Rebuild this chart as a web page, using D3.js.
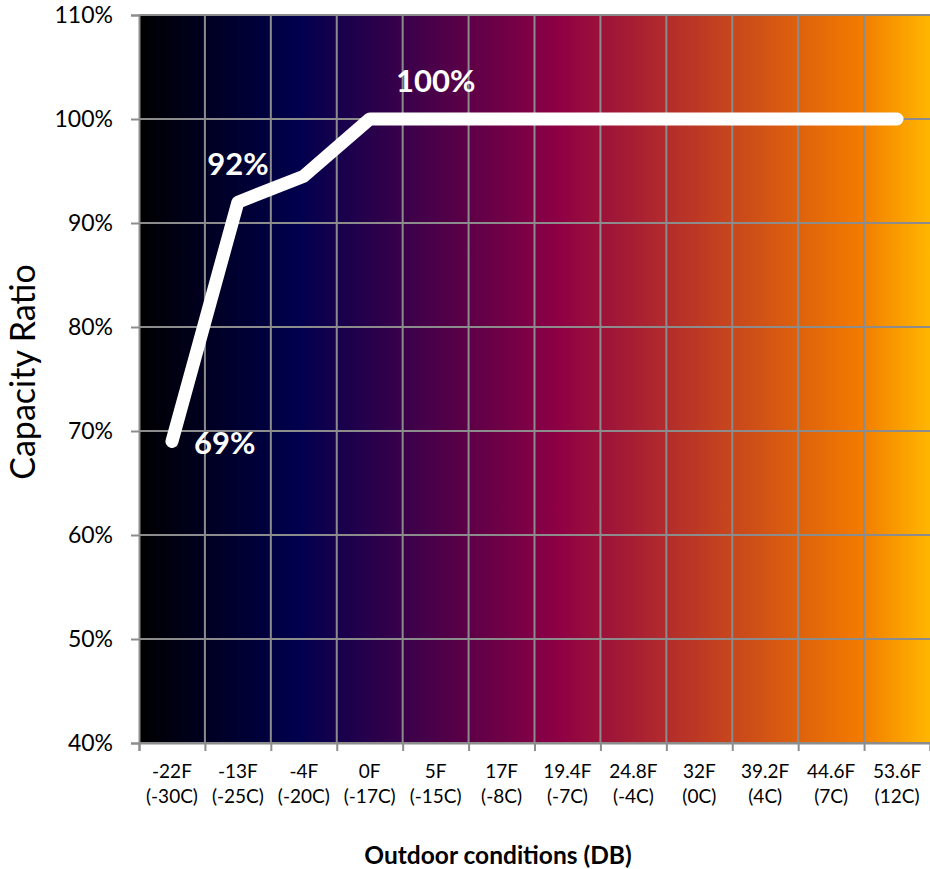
<!DOCTYPE html>
<html>
<head>
<meta charset="utf-8">
<script src="https://cdn.jsdelivr.net/npm/d3@7"></script>
<style>
  html, body { margin: 0; padding: 0; background: #ffffff; }
  svg { display: block; font-family: Lato, "Open Sans", sans-serif; }
</style>
</head>
<body>
<svg id="chart" width="930" height="869"></svg>
<script>
// Outdoor temperature categories (first line °F, second line °C)
const tempF = ["-22F", "-13F", "-4F", "0F", "5F", "17F", "19.4F", "24.8F", "32F", "39.2F", "44.6F", "53.6F"];
const tempC = ["(-30C)", "(-25C)", "(-20C)", "(-17C)", "(-15C)", "(-8C)", "(-7C)", "(-4C)", "(0C)", "(4C)", "(7C)", "(12C)"];
// Capacity ratio at each outdoor condition
const capacity = [0.69, 0.92, 0.945, 1.00, 1.00, 1.00, 1.00, 1.00, 1.00, 1.00, 1.00, 1.00];
// Y axis ticks
const yTicks = [0.4, 0.5, 0.6, 0.7, 0.8, 0.9, 1.0, 1.1];
// Points that carry a value label, and where the label sits
const labelled = [
  { index: 0, place: "right" },
  { index: 1, place: "above" },
  { index: 4, place: "above" }
];

const svg = d3.select("#chart");
const plot = { left: 139, right: 930, top: 15, bottom: 743 };
const gridColor = "#8c8c8c";

const x = d3.scaleBand().domain(tempF).range([plot.left, plot.right]).padding(0);
const xEdge = d3.scaleLinear().domain([0, tempF.length]).range([plot.left, plot.right]);
const y = d3.scaleLinear().domain([0.4, 1.1]).range([plot.bottom, plot.top]);

// Background: cold-to-warm horizontal gradient
const defs = svg.append("defs");
const grad = defs.append("linearGradient")
  .attr("id", "warmth").attr("x1", "0%").attr("x2", "100%").attr("y1", "0%").attr("y2", "0%");
[
  [0.00, "#000000"],
  [0.20, "#00004e"],
  [0.53, "#8e0044"],
  [0.91, "#f27a00"],
  [1.00, "#ffb600"]
].forEach(([o, c]) => grad.append("stop").attr("offset", o).attr("stop-color", c));

svg.append("rect")
  .attr("x", plot.left).attr("y", plot.top)
  .attr("width", plot.right - plot.left).attr("height", plot.bottom - plot.top)
  .attr("fill", "url(#warmth)");

// Horizontal gridlines
svg.append("g").selectAll("line").data(yTicks).join("line")
  .attr("x1", plot.left).attr("x2", plot.right)
  .attr("y1", d => y(d)).attr("y2", d => y(d))
  .attr("stroke", gridColor).attr("stroke-width", 2);

// Vertical gridlines at category boundaries
svg.append("g").selectAll("line").data(d3.range(1, tempF.length)).join("line")
  .attr("x1", d => xEdge(d)).attr("x2", d => xEdge(d))
  .attr("y1", plot.top).attr("y2", plot.bottom)
  .attr("stroke", gridColor).attr("stroke-width", 2);

// Y axis
const yAxis = svg.append("g")
  .attr("transform", `translate(${plot.left},0)`)
  .call(d3.axisLeft(y).tickValues(yTicks).tickFormat(d3.format(".0%")).tickSize(8).tickPadding(18));
yAxis.select(".domain").attr("stroke", gridColor).attr("stroke-width", 2);
yAxis.selectAll(".tick line").attr("stroke", gridColor).attr("stroke-width", 2);
yAxis.selectAll(".tick text")
  .attr("font-family", "Lato, sans-serif").attr("font-size", 23).attr("fill", "#000");

// X axis boundary ticks
const xTickAxis = svg.append("g")
  .attr("transform", `translate(0,${plot.bottom})`)
  .call(d3.axisBottom(xEdge).tickValues(d3.range(0, tempF.length + 1)).tickFormat("").tickSize(8));
xTickAxis.select(".domain").attr("stroke", gridColor).attr("stroke-width", 2);
xTickAxis.selectAll(".tick line").attr("stroke", gridColor).attr("stroke-width", 2);

// X axis category labels (two lines)
const xLabelAxis = svg.append("g")
  .attr("transform", `translate(0,${plot.bottom})`)
  .call(d3.axisBottom(x).tickSize(0).tickFormat(""));
xLabelAxis.select(".domain").remove();
xLabelAxis.selectAll(".tick").each(function(d, i) {
  const t = d3.select(this).append("text")
    .attr("text-anchor", "middle")
    .attr("font-family", "Lato, sans-serif").attr("font-size", 19).attr("fill", "#000");
  t.append("tspan").attr("x", 0).attr("y", 35).text(tempF[i]);
  t.append("tspan").attr("x", 0).attr("y", 60).text(tempC[i]);
});

// Capacity line
const line = d3.line()
  .x((d, i) => x(tempF[i]) + x.bandwidth() / 2)
  .y(d => y(d));
svg.append("path")
  .datum(capacity)
  .attr("d", line)
  .attr("fill", "none")
  .attr("stroke", "#ffffff")
  .attr("stroke-width", 13)
  .attr("stroke-linecap", "round")
  .attr("stroke-linejoin", "round");

// Value labels
const fmt = d3.format(".0%");
svg.append("g").selectAll("text").data(labelled).join("text")
  .attr("x", d => x(tempF[d.index]) + x.bandwidth() / 2 + (d.place === "right" ? 22 : 0))
  .attr("y", d => y(capacity[d.index]) + (d.place === "right" ? 13 : -27))
  .attr("text-anchor", d => d.place === "right" ? "start" : "middle")
  .attr("font-family", "Lato, sans-serif").attr("font-weight", "bold")
  .attr("font-size", 31).attr("fill", "#ffffff")
  .text(d => fmt(capacity[d.index]));

// Axis titles
svg.append("text")
  .attr("transform", "translate(35,372) rotate(-90)")
  .attr("text-anchor", "middle")
  .attr("font-family", "Lato, sans-serif").attr("font-size", 34).attr("fill", "#000")
  .text("Capacity Ratio");

svg.append("text")
  .attr("x", 498).attr("y", 864)
  .attr("text-anchor", "middle")
  .attr("font-family", "Lato, sans-serif").attr("font-weight", "bold")
  .attr("font-size", 24.5).attr("fill", "#000")
  .text("Outdoor conditions (DB)");
</script>
</body>
</html>
